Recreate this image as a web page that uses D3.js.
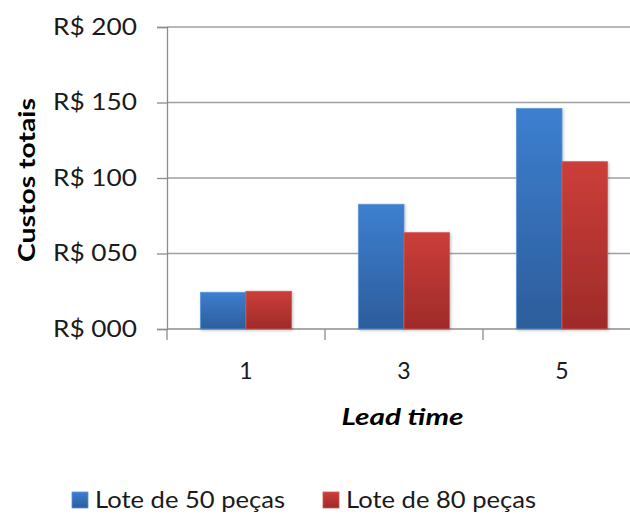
<!DOCTYPE html>
<html><head><meta charset="utf-8">
<script src="https://cdn.jsdelivr.net/npm/d3@7"></script>
<style>body{margin:0;background:#fff;} svg{display:block;font-family:Lato, "Open Sans", sans-serif;}</style>
</head><body>
<svg id="c" width="630" height="518"></svg>
<script>
const categories = ["1", "3", "5"];
const seriesNames = ["Lote de 50 peças", "Lote de 80 peças"];
const lote50 = [24.3, 82.6, 146.0];
const lote80 = [25.0, 63.8, 110.8];
const yTicks = [0, 50, 100, 150, 200];
const yTitle = "Custos totais";
const xTitle = "Lead time";

(function () {
const svg = d3.select("#c");
const mLeft = 167, mRight = 641, mTop = 27, mBottom = 329;

const defs = svg.append("defs");
const grads = [["gBlue", "#3d7fd0", "#2d5d9b"], ["gRed", "#cc3e3a", "#9e2b29"]];
grads.forEach(([id, c1, c2]) => {
  const g = defs.append("linearGradient").attr("id", id).attr("x1", 0).attr("y1", 0).attr("x2", 0).attr("y2", 1);
  g.append("stop").attr("offset", "0%").attr("stop-color", c1);
  g.append("stop").attr("offset", "100%").attr("stop-color", c2);
});
const f = defs.append("filter").attr("id", "sh").attr("x", "-20%").attr("y", "-10%").attr("width", "140%").attr("height", "120%");
f.append("feDropShadow").attr("dx", 1).attr("dy", 1).attr("stdDeviation", 1.5).attr("flood-color", "#000").attr("flood-opacity", 0.25);

const y = d3.scaleLinear().domain([0, 200]).range([mBottom, mTop]);
const x0 = d3.scaleBand().domain(categories).range([mLeft, mRight]).padding(0);
const x1 = d3.scaleBand().domain(seriesNames).range([0, x0.bandwidth()]).paddingInner(0).paddingOuter(0.736);

// gridlines
svg.append("g").selectAll("line").data(yTicks.filter(d => d > 0)).join("line")
  .attr("x1", mLeft).attr("x2", 630).attr("y1", d => y(d)).attr("y2", d => y(d))
  .attr("stroke", "#a0a0a0").attr("stroke-width", 1.3);

// y axis
const yAxis = d3.axisLeft(y).tickValues(yTicks).tickSize(10).tickPadding(20)
  .tickFormat(d => "R$ " + d3.format("03d")(d));
const ya = svg.append("g").attr("transform", `translate(${mLeft},0)`).call(yAxis);
ya.select(".domain").attr("stroke", "#8c8c8c").attr("stroke-width", 1.3);
ya.selectAll(".tick line").attr("stroke", "#8c8c8c").attr("stroke-width", 1.3);
ya.selectAll(".tick text").attr("font-size", 23).attr("fill", "#1a1a1a").attr("font-family", "Lato, sans-serif")
  .attr("textLength", 84).attr("lengthAdjust", "spacingAndGlyphs");

// x axis
const xa = svg.append("g").attr("transform", `translate(0,${mBottom})`)
  .call(d3.axisBottom(x0).tickSize(0).tickPadding(34));
xa.select(".domain").remove();
xa.append("line").attr("x1", mLeft).attr("x2", 630).attr("stroke", "#8c8c8c").attr("stroke-width", 1.3);
xa.selectAll(".tick text").attr("font-size", 23).attr("fill", "#1a1a1a").attr("font-family", "Lato, sans-serif");
xa.selectAll(".sep").data(categories).join("line").attr("class", "sep")
  .attr("x1", d => x0(d)).attr("x2", d => x0(d)).attr("y1", 0).attr("y2", 11)
  .attr("stroke", "#8c8c8c").attr("stroke-width", 1.3);

// bars
const data = categories.map((c, i) => ({c, vals: [lote50[i], lote80[i]]}));
const fills = ["url(#gBlue)", "url(#gRed)"];
const strokes = ["#5b93d8", "#d05a56"];
const gb = svg.append("g");
data.forEach(d => {
  d.vals.forEach((v, j) => {
    gb.append("rect")
      .attr("x", x0(d.c) + x1(seriesNames[j]))
      .attr("y", y(v))
      .attr("width", x1.bandwidth())
      .attr("height", y(0) - y(v))
      .attr("fill", fills[j])
      .attr("stroke", strokes[j]).attr("stroke-width", 0.8)
      .attr("filter", "url(#sh)");
  });
});

// titles
svg.append("text").attr("transform", `translate(35,180) rotate(-90)`)
  .attr("text-anchor", "middle").attr("font-size", 23.5).attr("font-weight", "bold")
  .attr("fill", "#000").attr("textLength", 164).attr("lengthAdjust", "spacingAndGlyphs").text(yTitle);
svg.append("text").attr("x", 402.5).attr("y", 425).attr("text-anchor", "middle")
  .attr("font-size", 23.5).attr("font-weight", "bold").attr("font-style", "italic")
  .attr("fill", "#000").attr("textLength", 122).attr("lengthAdjust", "spacingAndGlyphs").text(xTitle);

// legend
const legX = [72, 323];
seriesNames.forEach((s, i) => {
  svg.append("rect").attr("x", legX[i]).attr("y", 492).attr("width", 16).attr("height", 16)
    .attr("fill", fills[i]).attr("stroke", strokes[i]).attr("stroke-width", 0.8);
  svg.append("text").attr("x", legX[i] + 23).attr("y", 508).attr("font-size", 23)
    .attr("fill", "#1a1a1a").attr("textLength", 190).attr("lengthAdjust", "spacingAndGlyphs").text(s);
});
})();
</script>
</body></html>
